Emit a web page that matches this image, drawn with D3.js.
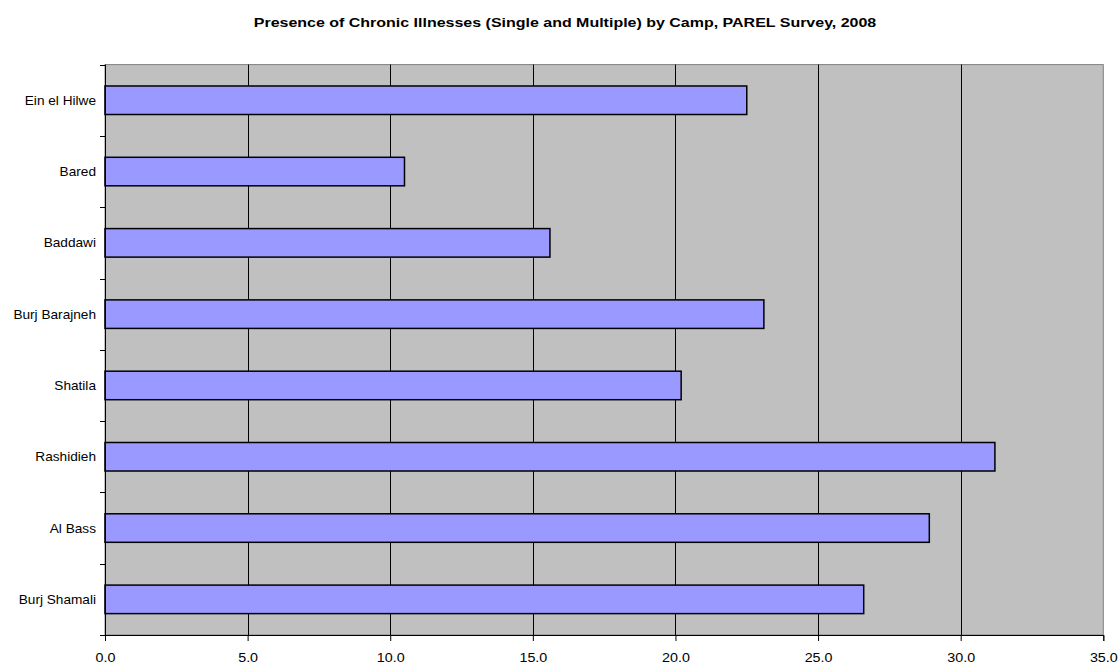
<!DOCTYPE html>
<html>
<head>
<meta charset="utf-8">
<script src="https://cdn.jsdelivr.net/npm/d3@7"></script>
<style>
  body { margin: 0; background: #fff; }
  svg text { font-family: "Liberation Sans", Arial, sans-serif; fill: #000; }
</style>
</head>
<body>
<svg id="chart" width="1119" height="665"></svg>
<script>
const title = "Presence of Chronic Illnesses (Single and Multiple) by Camp, PAREL Survey, 2008";
const categories = ["Ein el Hilwe", "Bared", "Baddawi", "Burj Barajneh", "Shatila", "Rashidieh", "Al Bass", "Burj Shamali"];
const values = [22.5, 10.5, 15.6, 23.1, 20.2, 31.2, 28.9, 26.6];
const xTicks = [0, 5, 10, 15, 20, 25, 30, 35];

(function () {
const svg = d3.select("#chart");
const pL = 105, pR = 1103.3, pT = 64.6, pB = 635;
const SX = 1.05;

const x = d3.scaleLinear().domain([0, 35]).range([pL, pR]);
const y = d3.scaleBand().domain(categories).range([pT, pB]).paddingInner(0.6).paddingOuter(0.3);
const yb = d3.scaleBand().domain(categories).range([pT, pB]);

// plot background
svg.append("rect").attr("x", pL).attr("y", pT).attr("width", pR - pL).attr("height", pB - pT)
  .attr("fill", "#C0C0C0").attr("stroke", "#808080").attr("stroke-width", 1);

// gridlines
svg.append("g").selectAll("line").data(xTicks.filter(d => d > 0 && d < 35)).join("line")
  .attr("x1", d => Math.round(x(d)) + 0.5).attr("x2", d => Math.round(x(d)) + 0.5)
  .attr("y1", pT).attr("y2", pB)
  .attr("stroke", "#000").attr("stroke-width", 1);

// bars
svg.append("g").selectAll("rect").data(categories).join("rect")
  .attr("x", x(0))
  .attr("y", d => y(d))
  .attr("width", (d, i) => x(values[i]) - x(0))
  .attr("height", y.bandwidth())
  .attr("fill", "#9999FF")
  .attr("stroke", "#000").attr("stroke-width", 1.5);

// x axis
const xAxis = d3.axisBottom(x).tickValues(xTicks).tickFormat(d3.format(".1f")).tickSize(6).tickPadding(10);
const gx = svg.append("g").attr("transform", `translate(0,${pB})`).call(xAxis);
gx.select(".domain").attr("stroke", "#000");
gx.selectAll(".tick line").attr("stroke", "#000");
gx.selectAll("text").attr("font-size", 13).attr("font-family", "Liberation Sans, Arial, sans-serif")
  .attr("y", 0).attr("dy", 0).attr("transform", `translate(0,27) scale(1.1,1)`);

// y axis: ticks at category boundaries
const gy = svg.append("g");
gy.append("line").attr("x1", pL + 0.5).attr("x2", pL + 0.5).attr("y1", pT).attr("y2", pB + 6).attr("stroke", "#000");
const boundaries = categories.map(c => yb(c)).concat([pB]);
gy.selectAll("line.tk").data(boundaries).join("line").attr("class", "tk")
  .attr("x1", pL - 5).attr("x2", pL).attr("y1", d => Math.round(d) + 0.5).attr("y2", d => Math.round(d) + 0.5)
  .attr("stroke", "#000");
gy.selectAll("text").data(categories).join("text")
  .attr("transform", d => `translate(96,${yb(d) + yb.bandwidth() / 2}) scale(${SX},1)`)
  .attr("dy", "0.35em").attr("text-anchor", "end").attr("font-size", 13).text(d => d);

// title
svg.append("text").attr("transform", "translate(565,27) scale(1.23,1)").attr("text-anchor", "middle")
  .attr("font-size", 13).attr("font-weight", "bold").text(title);
})();
</script>
</body>
</html>
